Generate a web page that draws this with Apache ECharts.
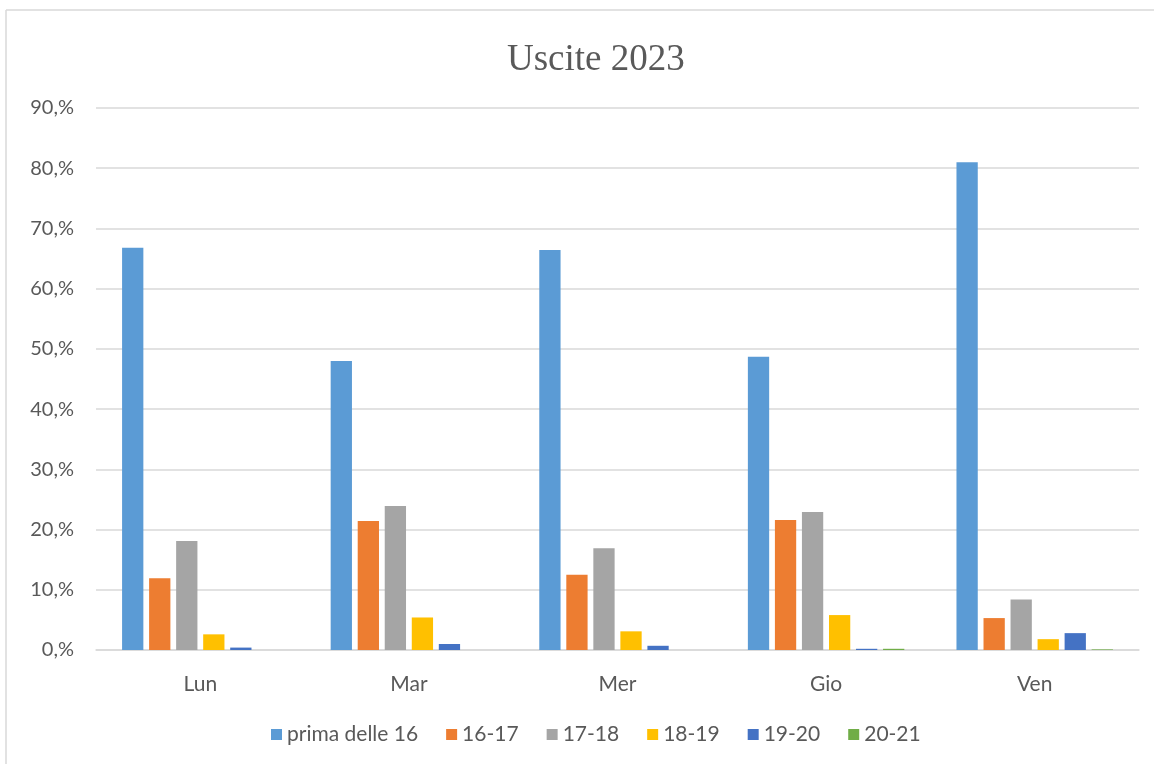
<!DOCTYPE html>
<html>
<head>
<meta charset="utf-8">
<title>Uscite 2023</title>
<script src="https://cdn.jsdelivr.net/npm/echarts@6/dist/echarts.min.js"></script>
<style>
  html, body { margin: 0; padding: 0; background: #fff; }
  #chart { width: 1154px; height: 764px; }
</style>
</head>
<body>
<div id="chart"></div>
<script>
// giorni e fasce orarie
var giorni = ['Lun', 'Mar', 'Mer', 'Gio', 'Ven'];
var fasce = ['prima delle 16', '16-17', '17-18', '18-19', '19-20', '20-21'];
var colori = ['#5B9BD5', '#ED7D31', '#A5A5A5', '#FFC000', '#4472C4', '#70AD47'];

// percentuali (una lista per fascia)
var primaDelle16 = [66.8, 48.0, 66.4, 48.7, 81.0];
var ore16_17 = [11.9, 21.4, 12.5, 21.6, 5.3];
var ore17_18 = [18.1, 23.9, 16.9, 22.9, 8.4];
var ore18_19 = [2.6, 5.4, 3.1, 5.8, 1.8];
var ore19_20 = [0.4, 1.0, 0.7, 0.2, 2.8];
var ore20_21 = [0, 0, 0, 0.2, 0.1];

var valori = [primaDelle16, ore16_17, ore17_18, ore18_19, ore19_20, ore20_21];

var chartDom = document.getElementById('chart');
var myChart = echarts.init(chartDom);
var option;

var series = fasce.map(function (nome, i) {
  return {
    name: nome,
    type: 'bar',
    data: valori[i],
    barGap: '27%',
    barCategoryGap: '25%',
    itemStyle: { color: colori[i] }
  };
});

option = {
  animation: false,
  backgroundColor: '#fff',
  textStyle: { fontFamily: 'Lato' },
  title: {
    text: 'Uscite 2023',
    left: 502,
    top: 37,
    textStyle: { fontFamily: 'Liberation Serif', fontWeight: 'normal', fontSize: 37, color: '#595959' }
  },
  graphic: [
    { type: 'line', shape: { x1: 6, y1: 10, x2: 1154, y2: 10 }, style: { stroke: '#D9D9D9', lineWidth: 1.5 } },
    { type: 'line', shape: { x1: 6, y1: 10, x2: 6, y2: 764 }, style: { stroke: '#D9D9D9', lineWidth: 1.5 } }
  ],
  legend: {
    bottom: 14,
    left: 266,
    itemWidth: 11,
    itemHeight: 11,
    itemGap: 28,
    icon: 'rect',
    textStyle: { fontSize: 21, color: '#595959', fontFamily: 'Lato' },
    data: fasce
  },
  grid: { left: 96, right: 15, top: 108, bottom: 114, containLabel: false },
  xAxis: {
    type: 'category',
    data: giorni,
    axisLine: { lineStyle: { color: '#D9D9D9', width: 1.5 } },
    axisTick: { show: false },
    axisLabel: { fontSize: 21, color: '#595959', margin: 24, fontFamily: 'Lato' }
  },
  yAxis: {
    type: 'value',
    min: 0,
    max: 90,
    interval: 10,
    axisLine: { show: false },
    axisTick: { show: false },
    splitLine: { lineStyle: { color: '#D9D9D9', width: 1.5 } },
    axisLabel: {
      fontSize: 20,
      color: '#595959',
      margin: 22,
      fontFamily: 'Lato',
      formatter: function (v) { return v + ',%'; }
    }
  },
  series: series
};

option && myChart.setOption(option);
</script>
</body>
</html>
